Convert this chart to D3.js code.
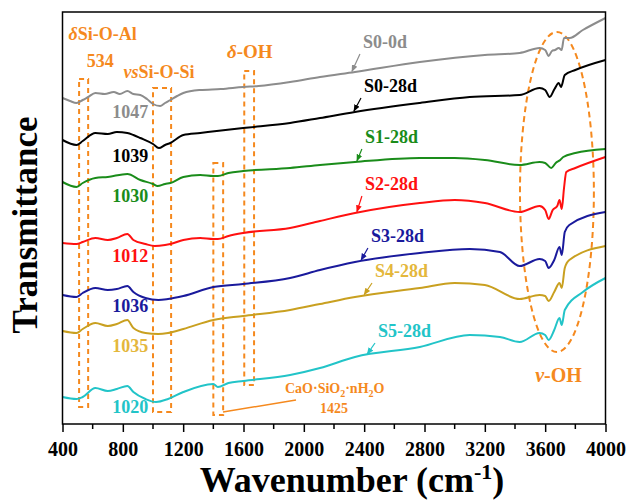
<!DOCTYPE html>
<html>
<head>
<meta charset="utf-8">
<script src="https://cdn.jsdelivr.net/npm/d3@7"></script>
<style>
    body { margin: 0; background: #fff; }
    svg text { font-family: "Liberation Serif", "DejaVu Serif", serif !important; font-weight: bold; }
</style>
</head>
<body>
<div id="d3"></div>
<script>
// wavenumber (cm-1), transmittance (a.u., curves offset)
const s0_0d = [[400,324],[450,321],[493,319],[534,322],[570,325],[618,329],[680,328],[740,330],[780,328],[830,331],[870,328],[916,327],[960,323],[1000,318],[1047,316],[1080,319],[1115,322],[1160,326],[1201,329],[1313,332],[1450,333],[1598,335],[1700,336],[1909,340],[2107,345],[2339,350],[2769,360],[3200,367],[3431,369],[3563,374],[3600,372],[3623,366],[3645,371],[3665,372],[3690,374],[3709,372],[3725,384],[3762,384],[3850,392],[4000,404]];
const s0_28d = [[400,282],[493,277],[534,281],[618,289],[700,288],[760,290],[830,289],[870,287],[916,284],[1000,278],[1039,274],[1080,277],[1115,279],[1201,287],[1313,289],[1598,294],[1909,299],[2107,304],[2339,310],[2769,319],[3100,325],[3431,327],[3563,334],[3600,332],[3630,325],[3662,333],[3690,339],[3705,335],[3730,347],[3800,352],[4000,362]];
const s1_28d = [[400,240],[493,235],[534,239],[618,244],[700,245],[830,248],[916,242],[1000,238],[1030,236],[1080,238],[1115,239],[1201,245],[1313,247],[1400,246],[1430,246],[1500,249],[1598,251],[1909,254],[2107,257],[2339,260],[2769,264],[3000,264],[3200,262],[3431,257],[3563,260],[3600,259],[3640,254],[3670,259],[3700,262],[3720,265],[3800,269],[4000,273]];
const s2_28d = [[400,179],[493,178],[534,180],[618,184],[700,182],[760,184],[830,188],[870,182],[950,178],[1012,176],[1080,177],[1115,178],[1201,182],[1313,184],[1400,183],[1430,183],[1500,186],[1598,189],[1909,194],[2107,201],[2339,209],[2769,219],[3000,222],[3200,219],[3431,210],[3563,216],[3600,212],[3623,203],[3650,212],[3680,216],[3695,222],[3710,213],[3725,234],[3740,250],[3800,254],[4000,265]];
const s3_28d = [[400,127],[493,125],[534,129],[618,134],[700,132],[760,133],[830,136],[870,130],[950,124],[1036,122],[1100,123],[1201,126],[1400,135],[1598,138],[1909,144],[2107,152],[2339,160],[2769,169],[3100,173],[3300,170],[3431,156],[3563,163],[3600,161],[3623,154],[3660,162],[3695,175],[3710,167],[3730,190],[3760,197],[4000,210]];
const s4_28d = [[400,91],[493,89],[534,93],[618,99],[700,96],[760,98],[830,102],[870,94],[950,89],[1035,88],[1100,89],[1201,93],[1400,102],[1598,106],[1909,112],[2107,118],[2339,125],[2769,134],[3000,139],[3200,137],[3431,123],[3563,127],[3600,126],[3623,121],[3660,130],[3695,139],[3710,134],[3730,154],[3760,162],[4000,176]];
const s5_28d = [[400,25],[493,23],[534,25],[618,34],[700,31],[760,33],[830,36],[870,30],[950,23],[1020,20],[1100,23],[1201,30],[1400,38],[1430,35],[1500,39],[1598,41],[1909,47],[2107,54],[2339,65],[2769,75],[3100,87],[3300,85],[3431,80],[3563,89],[3600,87],[3623,82],[3660,92],[3695,104],[3710,97],[3730,112],[3850,130],[4000,144]];

const seriesNames = ["S0-0d", "S0-28d", "S1-28d", "S2-28d", "S3-28d", "S4-28d", "S5-28d"];
const seriesData = [s0_0d, s0_28d, s1_28d, s2_28d, s3_28d, s4_28d, s5_28d];
const peakLabels = ["1047", "1039", "1030", "1012", "1036", "1035", "1020"];
const xTicks = [400, 800, 1200, 1600, 2000, 2400, 2800, 3200, 3600, 4000];

const lineColors = ["#8c8c8c", "#000000", "#1a8c1a", "#ff1010", "#1a1a9c", "#c9a020", "#22c4c8"];
const labelColors = ["#8c8c8c", "#000000", "#1a8c1a", "#ff1010", "#1a1a9c", "#e4b73c", "#22c4c8"];
const orange = "#f5891e";
const serif = "'Liberation Serif', 'DejaVu Serif', serif";

const width = 632, height = 502;
const plotLeft = 62.5, plotRight = 605.5, plotTop = 12, plotBottom = 424;

const x = d3.scaleLinear().domain([400, 4000]).range([plotLeft, plotRight]);
const y = d3.scaleLinear().domain([-2, 410]).range([plotBottom, plotTop]);

function valueAt(data, wn) {
    const i = d3.bisector(d => d[0]).left(data, wn);
    if (i <= 0) return data[0][1];
    const a = data[i - 1], b = data[i];
    return a[1] + (b[1] - a[1]) * (wn - a[0]) / (b[0] - a[0]);
}

function drawSVG() {
    const svg = d3
        .select("#d3")
        .append("svg")
        .attr("width", width)
        .attr("height", height)
        .attr("font-family", serif)
        .attr("font-weight", "bold");

    const defs = svg.append("defs");
    lineColors.forEach((c, i) => {
        defs.append("marker")
            .attr("id", "arrow" + i)
            .attr("viewBox", "0 0 10 10")
            .attr("refX", 9)
            .attr("refY", 5)
            .attr("markerWidth", 6)
            .attr("markerHeight", 6)
            .attr("orient", "auto")
            .append("path")
            .attr("d", "M0,1L10,5L0,9Z")
            .style("fill", c);
    });

    // annotation boxes (wn from, wn to, top, bottom)
    const boxes = [[510, 570, 343, 15], [1000, 1120, 334, 10], [1605, 1670, 351, 37], [1400, 1465, 259, 7]];
    svg.append("g")
        .selectAll("rect")
        .data(boxes)
        .join("rect")
        .attr("x", d => x(d[0]))
        .attr("y", d => y(d[2]))
        .attr("width", d => x(d[1]) - x(d[0]))
        .attr("height", d => y(d[3]) - y(d[2]))
        .style("fill", "none")
        .style("stroke", orange)
        .style("stroke-width", 2)
        .style("stroke-dasharray", "5,4");

    svg.append("ellipse")
        .attr("cx", x(3678))
        .attr("cy", y(230))
        .attr("rx", x(3678) - x(3433))
        .attr("ry", y(70) - y(230))
        .style("fill", "none")
        .style("stroke", orange)
        .style("stroke-width", 2)
        .style("stroke-dasharray", "6,4");

    svg.append("line")
        .attr("x1", x(1464)).attr("y1", y(10))
        .attr("x2", x(1948)).attr("y2", y(22))
        .style("stroke", orange)
        .style("stroke-width", 1.5);

    // spectra
    const line = d3.line()
        .x(d => x(d[0]))
        .y(d => y(d[1]))
        .curve(d3.curveMonotoneX);

    svg.append("g")
        .selectAll("path")
        .data(seriesData)
        .join("path")
        .attr("d", line)
        .style("fill", "none")
        .style("stroke", (d, i) => lineColors[i])
        .style("stroke-width", 2);

    // series labels with arrows
    const labelWn = [2392, 2399, 2405, 2405, 2445, 2472, 2492];
    const labelT = [374, 330, 279, 232, 180, 145, 85];
    const tipWn = [2319, 2332, 2352, 2352, 2380, 2400, 2420];

    seriesNames.forEach((name, i) => {
        svg.append("text")
            .attr("x", x(labelWn[i]))
            .attr("y", y(labelT[i]))
            .style("font-size", "18px")
            .style("fill", labelColors[i])
            .text(name);

        svg.append("line")
            .attr("x1", x(labelWn[i] - 20))
            .attr("y1", y(labelT[i] - 6))
            .attr("x2", x(tipWn[i]))
            .attr("y2", y(valueAt(seriesData[i], tipWn[i])) - 1)
            .style("stroke", lineColors[i])
            .style("stroke-width", 1.2)
            .attr("marker-end", `url(#arrow${i})`);
    });

    // peak position labels
    const peakT = [304, 260, 220, 160, 110, 70, 9];
    svg.append("g")
        .selectAll("text")
        .data(peakLabels)
        .join("text")
        .attr("x", x(730))
        .attr("y", (d, i) => y(peakT[i]))
        .style("font-size", "18px")
        .style("fill", (d, i) => labelColors[i])
        .text(d => d);

    // orange annotation text
    const t1 = svg.append("text").attr("x", x(440)).attr("y", y(382))
        .style("font-size", "18px").style("fill", orange);
    t1.append("tspan").style("font-style", "italic").text("δ");
    t1.append("tspan").text("Si-O-Al");

    svg.append("text").attr("x", x(561)).attr("y", y(355))
        .style("font-size", "18px").style("fill", orange).text("534");

    const t2 = svg.append("text").attr("x", x(805)).attr("y", y(344))
        .style("font-size", "18px").style("fill", orange);
    t2.append("tspan").style("font-style", "italic").text("vs");
    t2.append("tspan").text("Si-O-Si");

    const t3 = svg.append("text").attr("x", x(1490)).attr("y", y(364))
        .style("font-size", "19px").style("fill", orange);
    t3.append("tspan").style("font-style", "italic").text("δ");
    t3.append("tspan").text("-OH");

    const t4 = svg.append("text").attr("x", x(3534)).attr("y", y(40))
        .style("font-size", "20px").style("fill", orange);
    t4.append("tspan").style("font-style", "italic").text("v");
    t4.append("tspan").text("-OH");

    const t5 = svg.append("text").attr("x", x(1875)).attr("y", y(29))
        .style("font-size", "14px").style("fill", orange);
    t5.append("tspan").text("CaO·SiO");
    t5.append("tspan").attr("dy", 4).style("font-size", "10px").text("2");
    t5.append("tspan").attr("dy", -4).text("·nH");
    t5.append("tspan").attr("dy", 4).style("font-size", "10px").text("2");
    t5.append("tspan").attr("dy", -4).text("O");

    svg.append("text").attr("x", x(2200)).attr("y", y(9))
        .attr("text-anchor", "middle")
        .style("font-size", "14px").style("fill", orange).text("1425");

    // frame
    svg.append("rect")
        .attr("x", plotLeft)
        .attr("y", plotTop)
        .attr("width", plotRight - plotLeft)
        .attr("height", plotBottom - plotTop)
        .style("fill", "none")
        .style("stroke", "#000")
        .style("stroke-width", 1.5);

    // x axis
    const xAxis = svg.append("g")
        .attr("transform", `translate(0,${plotBottom})`)
        .call(d3.axisBottom(x).tickValues(xTicks).tickSize(8).tickFormat(d3.format("d")));
    xAxis.attr("font-family", serif).attr("font-size", 20);
    xAxis.select(".domain").remove();
    xAxis.selectAll("line").style("stroke-width", 1.5);
    xAxis.selectAll("text")
        .attr("y", 18)
        .attr("dy", "0.71em")
        .style("font-size", "20px")
        .style("fill", "#000");

    svg.append("g")
        .attr("transform", `translate(0,${plotBottom})`)
        .selectAll("line")
        .data(d3.range(600, 4000, 400))
        .join("line")
        .attr("x1", d => x(d)).attr("x2", d => x(d))
        .attr("y1", 0).attr("y2", 5)
        .style("stroke", "#000")
        .style("stroke-width", 1.5);

    // axis titles
    const xt = svg.append("text")
        .attr("x", 352)
        .attr("y", 492)
        .attr("text-anchor", "middle")
        .style("font-size", "36px");
    xt.append("tspan").text("Wavenumber (cm");
    xt.append("tspan").attr("dy", -13).style("font-size", "22px").text("-1");
    xt.append("tspan").attr("dy", 13).text(")");

    svg.append("text")
        .attr("transform", "translate(37,225) rotate(-90)")
        .attr("text-anchor", "middle")
        .style("font-size", "35px")
        .text("Transmittance");
}

drawSVG();
</script>
</body>
</html>
